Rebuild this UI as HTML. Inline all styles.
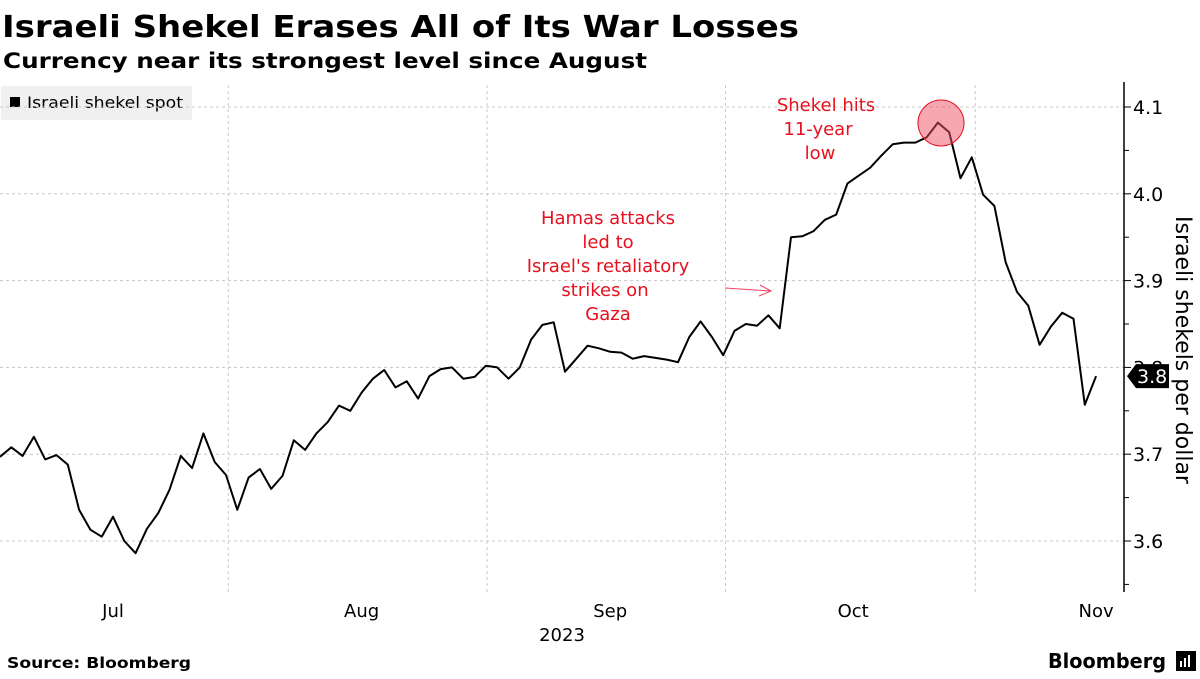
<!DOCTYPE html>
<html><head><meta charset="utf-8"><style>
body{margin:0;width:1200px;height:675px;background:#fff;overflow:hidden;font-family:"DejaVu Sans",sans-serif;}
svg text{font-family:"DejaVu Sans",sans-serif;}
</style></head><body>
<svg id="chart" width="1200" height="675" xmlns="http://www.w3.org/2000/svg">
<text x="2" y="37" font-size="30" font-weight="bold" fill="#000" textLength="797" lengthAdjust="spacingAndGlyphs">Israeli Shekel Erases All of Its War Losses</text>
<text x="3" y="68" font-size="21" font-weight="bold" fill="#000" textLength="644" lengthAdjust="spacingAndGlyphs">Currency near its strongest level since August</text>
<g>
<rect x="1" y="86" width="191" height="34" fill="#f0f0f0"/>
<rect x="10" y="97" width="10" height="10" fill="#000"/>
<text x="27" y="108" font-size="16" fill="#000" textLength="156" lengthAdjust="spacingAndGlyphs">Israeli shekel spot</text>
</g>
<g id="grid"></g>
<g id="axes"></g>
<g id="series"></g>
<g fill="#e8101e" font-size="18" text-anchor="middle">
<text x="608" y="224">Hamas attacks</text>
<text x="608" y="248">led to</text>
<text x="608" y="272">Israel's retaliatory</text>
<text x="605" y="296">strikes on</text>
<text x="608" y="320">Gaza</text>
<path d="M725 288 L770 291 M760 285 L771 291 L759 296" stroke="#f04060" stroke-width="1" fill="none"/>
</g>
<g fill="#e8101e" font-size="18" text-anchor="middle">
<text x="826" y="111">Shekel hits</text>
<text x="818" y="135">11-year</text>
<text x="820" y="159">low</text>
<circle cx="941" cy="123" r="23" fill="rgba(240,80,100,0.5)" stroke="#e8101e" stroke-width="1"/>
</g>
<text x="562" y="641" font-size="18" text-anchor="middle">2023</text>
<text transform="translate(1176,350) rotate(90)" font-size="22" text-anchor="middle">Israeli shekels per dollar</text>
<text x="7" y="668" font-size="15" font-weight="bold" textLength="184" lengthAdjust="spacingAndGlyphs">Source: Bloomberg</text>
<g>
<text x="1048" y="668" font-size="20" font-weight="bold" textLength="118" lengthAdjust="spacingAndGlyphs">Bloomberg</text>
<rect x="1176" y="651" width="20" height="20" fill="#000"/>
<path d="M1181 667 v-6 M1185 667 v-9 M1189 667 v-12" stroke="#fff" stroke-width="2"/>
</g>
</svg>
<script>
const values=[3.697,3.708,3.698,3.720,3.694,3.699,3.688,3.636,3.613,3.605,3.628,3.600,3.586,3.614,3.632,3.659,3.698,3.684,3.724,3.691,3.676,3.636,3.673,3.683,3.660,3.675,3.716,3.705,3.724,3.737,3.756,3.750,3.771,3.787,3.797,3.777,3.784,3.764,3.790,3.798,3.800,3.787,3.789,3.802,3.800,3.787,3.800,3.832,3.849,3.852,3.795,3.810,3.825,3.822,3.818,3.817,3.810,3.813,3.811,3.809,3.806,3.835,3.853,3.835,3.814,3.842,3.850,3.848,3.860,3.845,3.950,3.951,3.957,3.970,3.976,4.012,4.021,4.030,4.044,4.057,4.059,4.059,4.065,4.082,4.071,4.018,4.042,3.999,3.986,3.921,3.887,3.871,3.826,3.847,3.863,3.856,3.757,3.790];
const yTicks=[3.6,3.7,3.8,3.9,4.0,4.1];
const yMinor=[3.55,3.65,3.75,3.85,3.95,4.05];
const monthLabels=["Jul","Aug","Sep","Oct","Nov"];
const monthCenters=[10,32,54,75.5,97];
const monthBounds=[20.2,43.1,64.2,86.3];
const NS="http://www.w3.org/2000/svg";
const step=11.3, axisX=1124;
const xs=i=>i*step;
const ys=v=>107+(4.1-v)*868;
function mk(tag,attrs,parent){const e=document.createElementNS(NS,tag);for(const k in attrs)e.setAttribute(k,attrs[k]);document.getElementById(parent).appendChild(e);return e;}
yTicks.forEach(t=>{
 const g=mk('line',{x1:0,x2:axisX,y1:ys(t),y2:ys(t),stroke:'#c8c8c8','stroke-dasharray':'3,3'},'grid');
 
 
 const tk=mk('line',{x1:axisX,x2:axisX+7,y1:ys(t),y2:ys(t),stroke:'#000'},'axes');
 
 
 const tx=mk('text',{x:axisX+9,y:ys(t)+7,'font-size':19},'axes');
 tx.textContent=t.toFixed(1);
 
 
});
yMinor.forEach(t=>{
 const tk=mk('line',{x1:axisX,x2:axisX+5,y1:ys(t),y2:ys(t),stroke:'#000'},'axes');
 
 
});
monthBounds.forEach(b=>{
 const g=mk('line',{x1:xs(b),x2:xs(b),y1:85,y2:592,stroke:'#c8c8c8','stroke-dasharray':'3,3'},'grid');
 
 
});
monthLabels.forEach((m,i)=>{
 const t=mk('text',{x:xs(monthCenters[i]),y:617,'font-size':18,'text-anchor':'middle'},'axes');
 t.textContent=m;
 
 
});
const ax=mk('line',{x1:axisX,x2:axisX,y1:82,y2:592,stroke:'#000','stroke-width':1.5},'axes');


const d=values.map((v,i)=>(i?'L':'M')+xs(i).toFixed(1)+' '+ys(v).toFixed(1)).join(' ');
const p=mk('path',{d:d,fill:'none',stroke:'#000','stroke-width':2,'stroke-linejoin':'round'},'series');


const last=values[values.length-1], ly=ys(last);
const tag=mk('path',{d:`M${axisX+3} ${ly} L${axisX+12} ${ly-12} H${axisX+45} V${ly+12} H${axisX+12} Z`,fill:'#000'},'series');


const tt=mk('text',{x:axisX+13,y:ly+7,'font-size':19,fill:'#fff'},'series');
tt.textContent=last.toFixed(1);


</script>
</body></html>
